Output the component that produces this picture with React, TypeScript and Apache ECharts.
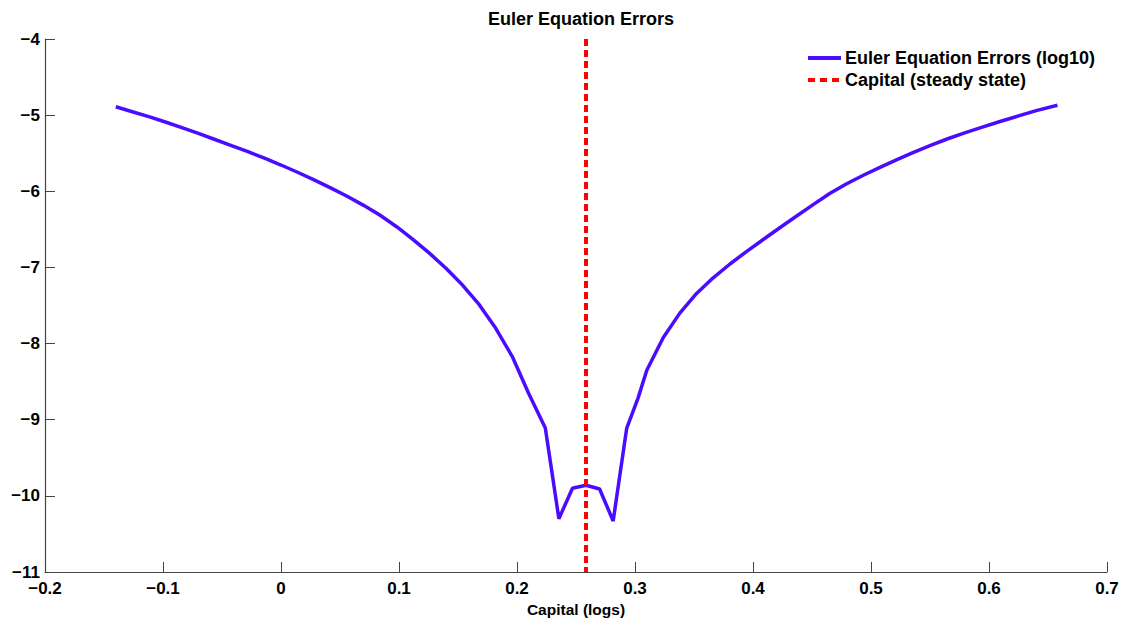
import React, { useEffect, useRef } from "react";
import * as echarts from "echarts";

const capitalLogs = [
  -0.14, -0.126, -0.112, -0.098, -0.084, -0.07, -0.056, -0.042, -0.028, -0.014, 0.0, 0.014,
  0.028, 0.042, 0.056, 0.07, 0.084, 0.098, 0.112, 0.126, 0.14, 0.154, 0.168, 0.182, 0.196,
  0.21, 0.224, 0.2355, 0.247, 0.2585, 0.27, 0.2815, 0.293, 0.3025, 0.31, 0.324, 0.338, 0.352,
  0.366, 0.3805, 0.395, 0.409, 0.423, 0.437, 0.451, 0.465, 0.479, 0.4935, 0.5076, 0.522,
  0.536, 0.55, 0.565, 0.58, 0.595, 0.61, 0.625, 0.64, 0.658,
];
const eulerErrors = [
  -4.89, -4.955, -5.02, -5.09, -5.165, -5.24, -5.32, -5.4, -5.48, -5.565, -5.655, -5.75,
  -5.85, -5.955, -6.065, -6.185, -6.315, -6.465, -6.635, -6.815, -7.015, -7.235, -7.49, -7.8,
  -8.17, -8.66, -9.11, -10.3, -9.9, -9.86, -9.91, -10.33, -9.11, -8.72, -8.35, -7.92, -7.6,
  -7.345, -7.14, -6.955, -6.785, -6.63, -6.475, -6.325, -6.175, -6.03, -5.905, -5.79, -5.685,
  -5.585, -5.49, -5.4, -5.31, -5.23, -5.155, -5.08, -5.01, -4.94, -4.87,
];
const steadyStateCapital = 0.2585;
const steadyLineY = [-4, -11];

const xTicks = { min: -0.2, max: 0.7, interval: 0.1 };
const yTicks = { min: -11, max: -4, interval: 1 };

const legendNames = ["Euler Equation Errors (log10)", "Capital (steady state)"];

const FONT = "'Liberation Sans', Arial, Helvetica, sans-serif";
const BLUE = "#4A0CFF";
const RED = "#FF0000";

function fmt(v: number, digits: number) {
  const s = Math.abs(v) < 1e-9 ? "0" : Number(v.toFixed(digits)).toString();
  return s.replace("-", "\u2212");
}

export default function App() {
  const ref = useRef<HTMLDivElement>(null);
  useEffect(() => {
    if (!ref.current) return;
    const chart = echarts.init(ref.current, undefined, { renderer: "svg" });
    const legendText = { fontFamily: FONT, fontWeight: "bold", fontSize: 18, fill: "#000" };
    chart.setOption({
      animation: false,
      backgroundColor: "#ffffff",
      title: {
        text: "Euler Equation Errors",
        left: 576,
        textAlign: "center",
        top: 5,
        textStyle: { fontFamily: FONT, fontWeight: "bold", fontSize: 18, color: "#000" },
      },
      graphic: [
        {
          type: "line",
          shape: { x1: 808, y1: 58, x2: 841, y2: 58 },
          style: { stroke: BLUE, lineWidth: 4 },
        },
        {
          type: "text",
          x: 845,
          y: 58,
          style: { ...legendText, text: legendNames[0], verticalAlign: "middle", align: "left" },
        },
        {
          type: "line",
          shape: { x1: 808, y1: 80, x2: 841, y2: 80 },
          style: { stroke: RED, lineWidth: 4, lineDash: [7, 5] },
        },
        {
          type: "text",
          x: 845,
          y: 80,
          style: { ...legendText, text: legendNames[1], verticalAlign: "middle", align: "left" },
        },
      ],
      grid: {
        left: 45,
        right: 20,
        top: 39,
        bottom: 47,
        containLabel: false,
        outerBoundsMode: "none",
      },
      xAxis: {
        type: "value",
        min: xTicks.min,
        max: xTicks.max,
        interval: xTicks.interval,
        name: "Capital (logs)",
        nameLocation: "middle",
        nameGap: 21,
        nameTextStyle: { fontFamily: FONT, fontWeight: "bold", fontSize: 15.5, color: "#000" },
        axisLine: { show: true, onZero: false, lineStyle: { color: "#444", width: 1.2 } },
        axisTick: { show: true, inside: true, length: 10, lineStyle: { color: "#444" } },
        splitLine: { show: false },
        axisLabel: {
          fontFamily: FONT,
          fontWeight: "bold",
          fontSize: 17,
          color: "#000",
          margin: 8,
          formatter: (v: number) => fmt(v, 1),
        },
      },
      yAxis: {
        type: "value",
        min: yTicks.min,
        max: yTicks.max,
        interval: yTicks.interval,
        axisLine: { show: true, onZero: false, lineStyle: { color: "#444", width: 1.2 } },
        axisTick: { show: true, inside: true, length: 10, lineStyle: { color: "#444" } },
        splitLine: { show: false },
        axisLabel: {
          fontFamily: FONT,
          fontWeight: "bold",
          fontSize: 17,
          color: "#000",
          margin: 5,
          formatter: (v: number) => fmt(v, 0),
        },
      },
      series: [
        {
          name: legendNames[0],
          type: "line",
          data: capitalLogs.map((x, i) => [x, eulerErrors[i]]),
          symbol: "none",
          smooth: false,
          lineStyle: { color: BLUE, width: 3.5 },
          itemStyle: { color: BLUE },
          z: 2,
        },
        {
          name: legendNames[1],
          type: "line",
          data: steadyLineY.map((y) => [steadyStateCapital, y]),
          symbol: "none",
          lineStyle: { color: RED, width: 4, type: [7, 4] },
          itemStyle: { color: RED },
          z: 3,
        },
      ],
    });
    return () => chart.dispose();
  }, []);
  return <div ref={ref} style={{ width: 1127, height: 619, position: "absolute", left: 0, top: 0 }} />;
}
